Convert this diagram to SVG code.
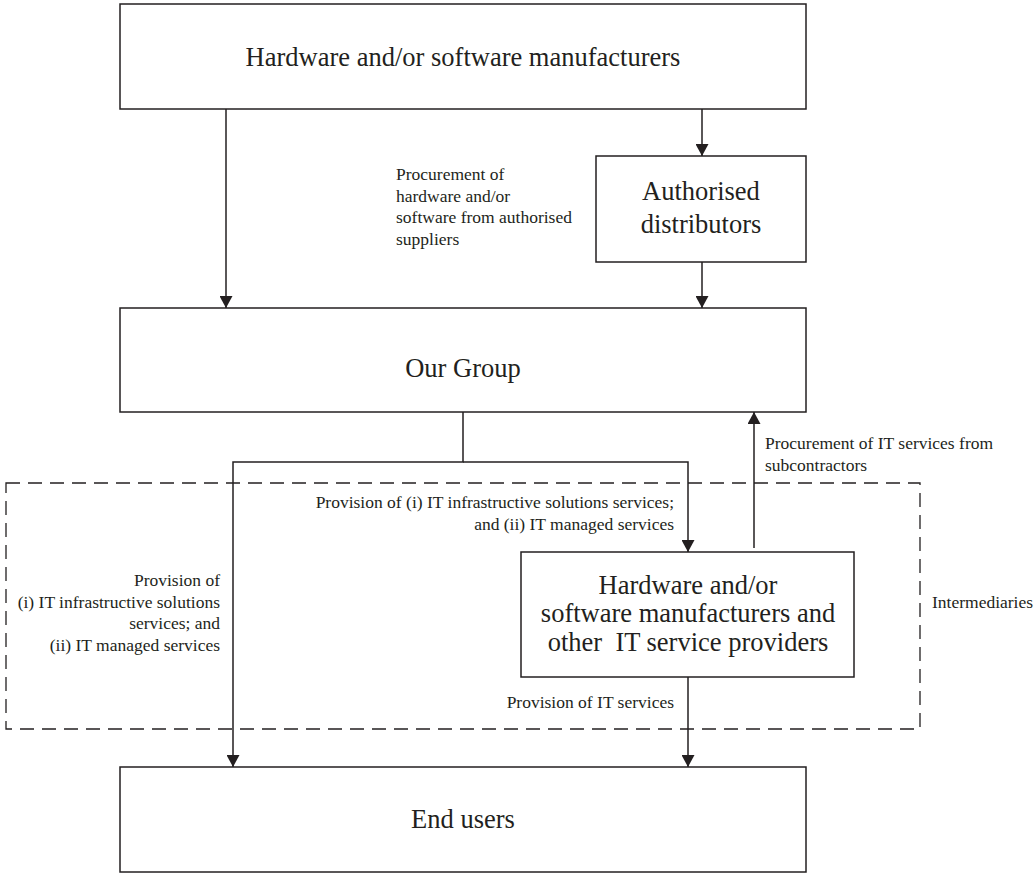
<svg xmlns="http://www.w3.org/2000/svg" width="1034" height="873" viewBox="0 0 1034 873">
<style>
.box{fill:#fff;stroke:#231f20;stroke-width:1.5}
.ln{fill:none;stroke:#231f20;stroke-width:1.5}
.big{font-family:"Liberation Serif",serif;font-size:26.5px;fill:#231f20;text-anchor:middle}
.sm{font-family:"Liberation Serif",serif;font-size:17.5px;fill:#231f20}
.dash{fill:none;stroke:#231f20;stroke-width:1.3;stroke-dasharray:14 8}
</style>
<defs>
<marker id="ah" viewBox="0 0 12 13" refX="12" refY="6.5" markerWidth="12" markerHeight="13" markerUnits="userSpaceOnUse" orient="auto">
<path d="M0,0 L12,6.5 L0,13 Z" fill="#231f20"/>
</marker>
</defs>
<rect class="dash" x="6" y="483" width="914" height="246"/>
<g id="n-manufacturers"><rect class="box" x="120" y="4" width="686" height="105"/><text class="big" x="463" y="66">Hardware and/or software manufacturers</text></g>
<g id="n-distributors"><rect class="box" x="596" y="156" width="210" height="106"/><text class="big" x="701" y="200">Authorised</text><text class="big" x="701" y="233">distributors</text></g>
<g id="n-group"><rect class="box" x="120" y="308" width="686" height="104"/><text class="big" x="463" y="377">Our Group</text></g>
<g id="n-providers"><rect class="box" x="521" y="552" width="333" height="125"/><text class="big" x="688" y="594">Hardware and/or</text><text class="big" x="688" y="622">software manufacturers and</text><text class="big" x="688" y="651" xml:space="preserve">other  IT service providers</text></g>
<g id="n-endusers"><rect class="box" x="120" y="767" width="686" height="105"/><text class="big" x="463" y="828">End users</text></g>
<g id="connectors">
<line class="ln" x1="226" y1="109" x2="226" y2="308" marker-end="url(#ah)"/>
<line class="ln" x1="702" y1="109" x2="702" y2="156" marker-end="url(#ah)"/>
<line class="ln" x1="702" y1="262" x2="702" y2="308" marker-end="url(#ah)"/>
<polyline class="ln" points="463,412 463,462 233,462 233,767" marker-end="url(#ah)"/>
<polyline class="ln" points="463,462 688,462 688,552" marker-end="url(#ah)"/>
<line class="ln" x1="754" y1="548" x2="754" y2="412" marker-end="url(#ah)"/>
<line class="ln" x1="688" y1="677" x2="688" y2="767" marker-end="url(#ah)"/>
</g>
<g id="labels">
<text class="sm" x="396" y="180">Procurement of</text>
<text class="sm" x="396" y="202">hardware and/or</text>
<text class="sm" x="396" y="223">software from authorised</text>
<text class="sm" x="396" y="245">suppliers</text>
<text class="sm" x="765" y="449">Procurement of IT services from</text>
<text class="sm" x="765" y="471">subcontractors</text>
<text class="sm" x="674" y="508" text-anchor="end">Provision of (i) IT infrastructive solutions services;</text>
<text class="sm" x="674" y="530" text-anchor="end">and (ii) IT managed services</text>
<text class="sm" x="220" y="586" text-anchor="end">Provision of</text>
<text class="sm" x="220" y="608" text-anchor="end">(i) IT infrastructive solutions</text>
<text class="sm" x="220" y="629" text-anchor="end">services; and</text>
<text class="sm" x="220" y="651" text-anchor="end">(ii) IT managed services</text>
<text class="sm" x="674" y="708" text-anchor="end">Provision of IT services</text>
<text class="sm" x="932" y="608">Intermediaries</text>
</g>
</svg>
